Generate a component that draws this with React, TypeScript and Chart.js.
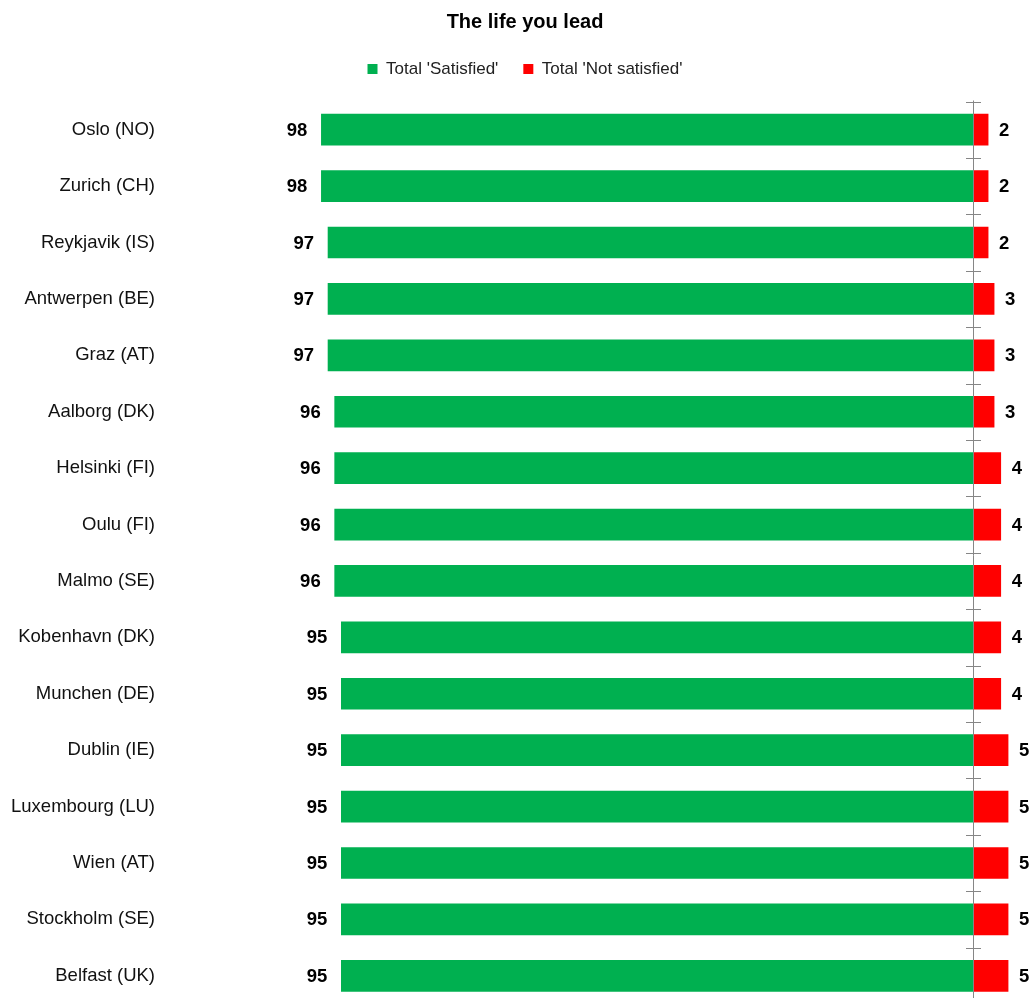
import React, { useEffect, useRef } from "react";
import { Chart, registerables } from "chart.js";

Chart.register(...registerables);

const cities = [
  "Oslo (NO)",
  "Zurich (CH)",
  "Reykjavik (IS)",
  "Antwerpen (BE)",
  "Graz (AT)",
  "Aalborg (DK)",
  "Helsinki (FI)",
  "Oulu (FI)",
  "Malmo (SE)",
  "Kobenhavn (DK)",
  "Munchen (DE)",
  "Dublin (IE)",
  "Luxembourg (LU)",
  "Wien (AT)",
  "Stockholm (SE)",
  "Belfast (UK)",
];
const satisfied = [98, 98, 97, 97, 97, 96, 96, 96, 96, 95, 95, 95, 95, 95, 95, 95];
const notSatisfied = [2.2, 2.2, 2.2, 3.1, 3.1, 3.1, 4.1, 4.1, 4.1, 4.1, 4.1, 5.2, 5.2, 5.2, 5.2, 5.2];
const seriesNames = ["Total 'Satisfied'", "Total 'Not satisfied'"];
const titleText = "The life you lead";
const xMin = -121.5;
const xMax = 11.5;

const FONT = "'Liberation Sans', Arial, Helvetica, sans-serif";

const valueLabels = {
  id: "valueLabels",
  afterDatasetsDraw(chart: any) {
    const ctx = chart.ctx;
    ctx.save();
    ctx.font = `bold 18.5px ${FONT}`;
    ctx.fillStyle = "#000";
    ctx.textBaseline = "middle";
    chart.data.datasets.forEach((ds: any, di: number) => {
      const meta = chart.getDatasetMeta(di);
      meta.data.forEach((el: any, i: number) => {
        const v = Math.round(Math.abs(ds.data[i]));
        if (ds.data[i] < 0) {
          ctx.textAlign = "right";
          ctx.fillText(String(v), el.x - 14, el.y + 1);
        } else {
          ctx.textAlign = "left";
          ctx.fillText(String(v), el.x + 11, el.y + 1);
        }
      });
    });
    ctx.restore();
  },
};

const centerAxis = {
  id: "centerAxis",
  afterDatasetsDraw(chart: any) {
    const ctx = chart.ctx;
    const xs = chart.scales.x;
    const ys = chart.scales.y;
    const x0 = Math.round(xs.getPixelForValue(0)) + 0.5;
    const { top, bottom } = chart.chartArea;
    const c0 = ys.getPixelForValue(0);
    const band = ys.getPixelForValue(1) - c0;
    ctx.save();
    ctx.strokeStyle = "#868686";
    ctx.lineWidth = 1;
    ctx.beginPath();
    ctx.moveTo(x0, top - 1);
    ctx.lineTo(x0, bottom + 20);
    for (let i = 0; i <= cities.length; i++) {
      const y = Math.round(c0 - band / 2 + i * band) + 0.5;
      ctx.moveTo(x0 - 7.5, y);
      ctx.lineTo(x0 + 7.5, y);
    }
    ctx.stroke();
    ctx.restore();
  },
};

const legendMargin = {
  id: "legendMargin",
  beforeInit(chart: any) {
    const legend = chart.legend;
    if (!legend) return;
    const orig = legend.fit;
    legend.fit = function () {
      orig.call(this);
      this.height += 14;
    };
  },
};

export default function App() {
  const ref = useRef<HTMLCanvasElement>(null);

  useEffect(() => {
    if (!ref.current) return;
    const chart = new Chart(ref.current, {
      type: "bar",
      data: {
        labels: cities,
        datasets: [
          {
            label: seriesNames[0],
            data: satisfied.map((v) => -v),
            backgroundColor: "#00B050",
            borderWidth: 0,
            barThickness: 31,
          },
          {
            label: seriesNames[1],
            data: notSatisfied,
            backgroundColor: "#FF0000",
            borderWidth: 0,
            barThickness: 31,
          },
        ],
      },
      options: {
        indexAxis: "y",
        responsive: false,
        animation: false,
        devicePixelRatio: 1,
        layout: { padding: { top: 0, bottom: 6, left: 0, right: 0 } },
        scales: {
          x: {
            type: "linear",
            min: xMin,
            max: xMax,
            stacked: true,
            display: false,
          },
          y: {
            stacked: true,
            grid: { display: false, drawTicks: false },
            border: { display: false },
            afterFit(scale: any) {
              scale.width = 165;
              scale.paddingTop = 0;
              scale.paddingBottom = 0;
            },
            ticks: {
              autoSkip: false,
              padding: 10,
              color: "#111",
              font: { family: FONT, size: 18.5 },
            },
          },
        },
        plugins: {
          title: {
            display: true,
            text: titleText,
            color: "#000",
            font: { family: FONT, size: 20, weight: "bold" },
            padding: { top: 10, bottom: 1.5 },
          },
          legend: {
            display: true,
            position: "top",
            labels: {
              boxWidth: 10,
              boxHeight: 10,
              padding: 25,
              color: "#222",
              font: { family: FONT, size: 17 },
            },
          },
          tooltip: { enabled: false },
        },
      },
      plugins: [legendMargin, centerAxis, valueLabels],
    });
    return () => chart.destroy();
  }, []);

  return (
    <div
      style={{
        position: "fixed",
        left: 0,
        top: 0,
        width: 1032,
        height: 998,
        overflow: "hidden",
        background: "#fff",
      }}
    >
      <canvas
        ref={ref}
        width={1050}
        height={1010}
        style={{ display: "block", width: 1050, height: 1010 }}
      />
    </div>
  );
}
